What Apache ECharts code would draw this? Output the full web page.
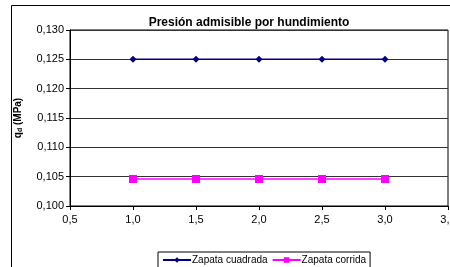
<!DOCTYPE html>
<html>
<head>
<meta charset="utf-8">
<script src="https://cdn.jsdelivr.net/npm/echarts@6/dist/echarts.min.js"></script>
<style>
  html, body { margin: 0; padding: 0; background: #fff; }
  #chart { width: 450px; height: 267px; }
</style>
</head>
<body>
<div id="chart"></div>
<script>
const anchos = [1.0, 1.5, 2.0, 2.5, 3.0];
const zapataCuadrada = [0.125, 0.125, 0.125, 0.125, 0.125];
const zapataCorrida = [0.1046, 0.1046, 0.1046, 0.1046, 0.1046];

const chart = echarts.init(document.getElementById("chart"));
const font = "Liberation Sans, Arial, sans-serif";
const comma = (v, d) => v.toFixed(d).replace(".", ",");

chart.setOption({
  animation: false,
  graphic: [{
    type: "rect",
    shape: { x: 11.5, y: 5.5, width: 450, height: 270 },
    style: { fill: "none", stroke: "#000", lineWidth: 1 },
    silent: true,
  }],
  title: {
    text: "Presión admisible por hundimiento",
    left: 244, top: 12, textAlign: "center",
    textStyle: { fontFamily: font, fontSize: 12, fontWeight: "bold", color: "#000" },
  },
  legend: {
    data: ["Zapata cuadrada", "Zapata corrida"],
    left: 158, top: 252,
    borderColor: "#000", borderWidth: 1, padding: [3, 4, 8, 4],
    itemWidth: 28, itemHeight: 7, itemGap: 4,
    textStyle: { fontFamily: font, fontSize: 10, color: "#000", padding: [0, 0, 0, -4] },
  },
  grid: {
    left: 70, right: 2, top: 30, bottom: 61, outerBoundsMode: "none",
    show: true, borderColor: "#000", borderWidth: 1,
  },
  xAxis: {
    type: "value", min: 0.5, max: 3.5, interval: 0.5,
    axisLine: { lineStyle: { color: "#000" } },
    axisTick: { show: true, length: 4, lineStyle: { color: "#000" } },
    axisLabel: { fontFamily: font, fontSize: 11, color: "#000", margin: 8, formatter: (v) => comma(v, 1) },
    splitLine: { show: false },
  },
  yAxis: {
    type: "value", min: 0.1, max: 0.13, interval: 0.005,
    name: "{q|q}{d|d}{q| (MPa)}", nameLocation: "middle", nameGap: 46, nameRotate: 90,
    nameTextStyle: {
      rich: {
        q: { fontFamily: font, fontSize: 10, fontWeight: "bold", color: "#000" },
        d: { fontFamily: font, fontSize: 7, fontWeight: "bold", color: "#000", verticalAlign: "bottom", padding: [4, 0, 0, 0] },
      },
    },
    axisLine: { show: true, lineStyle: { color: "#000" } },
    axisTick: { show: true, length: 4, lineStyle: { color: "#000" } },
    axisLabel: { fontFamily: font, fontSize: 11, color: "#000", margin: 6, formatter: (v) => comma(v, 3) },
    splitLine: { show: true, lineStyle: { color: "#333", width: 1 } },
  },
  series: [
    {
      name: "Zapata cuadrada", type: "line",
      data: anchos.map((x, i) => [x, zapataCuadrada[i]]),
      symbol: "diamond", symbolSize: 7,
      lineStyle: { color: "#000080", width: 1.5 },
      itemStyle: { color: "#000080" },
    },
    {
      name: "Zapata corrida", type: "line",
      data: anchos.map((x, i) => [x, zapataCorrida[i]]),
      symbol: "rect", symbolSize: 8,
      lineStyle: { color: "#ff00ff", width: 1.5 },
      itemStyle: { color: "#ff00ff" },
    },
  ],
});
</script>
</body>
</html>
